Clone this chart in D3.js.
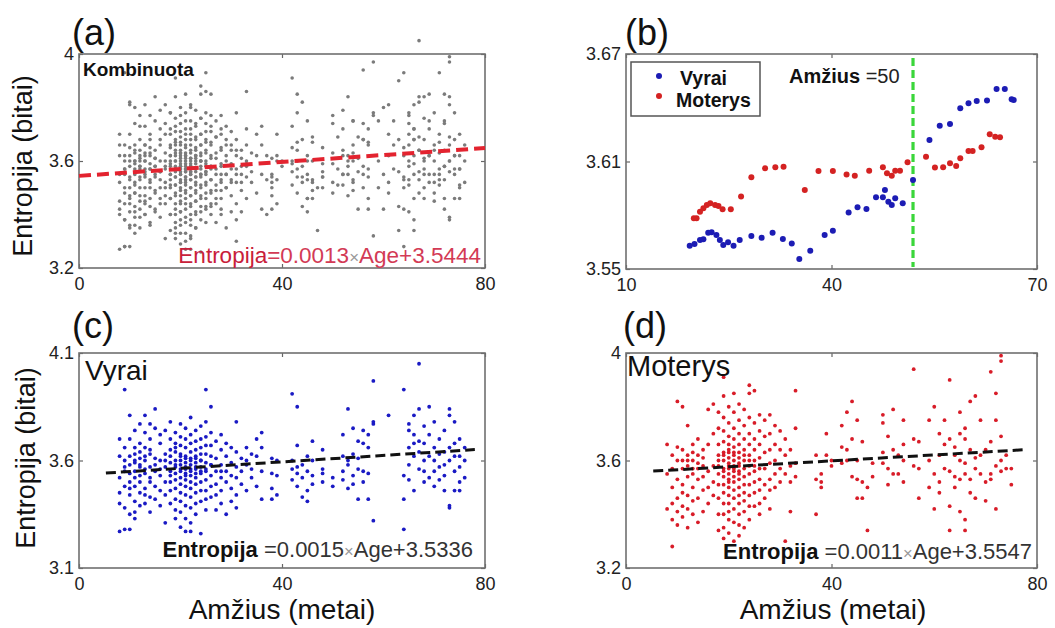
<!DOCTYPE html>
<html lang="lt">
<head>
<meta charset="utf-8">
<title>Entropija pagal amžių</title>
<script src="https://cdn.jsdelivr.net/npm/d3@7"></script>
<style>
  body { margin: 0; background: #fff; }
  text { font-family: "Liberation Sans", Arial, sans-serif; }
</style>
</head>
<body>
<svg id="fig" width="1055" height="628"></svg>
<script>

// ---------- data ----------

// men, (c): [age, entropy values at that age]
var menRows = [
  [8,  [3.52, 3.45, 3.62, 3.27, 3.40, 3.70]],
  [9,  [3.93, 3.57, 3.48, 3.66, 3.38, 3.28, 3.55, 3.60]],
  [10, [3.81, 3.62, 3.50, 3.44, 3.58, 3.35, 3.70, 3.54, 3.47, 3.28]],
  [11, [3.66, 3.59, 3.52, 3.41, 3.63, 3.55, 3.36, 3.48, 3.60, 3.74, 3.33]],
  [12, [3.77, 3.64, 3.57, 3.50, 3.45, 3.61, 3.39, 3.68, 3.53, 3.58]],
  [13, [3.81, 3.73, 3.66, 3.60, 3.54, 3.47, 3.40, 3.62, 3.56, 3.44]],
  [14, [3.77, 3.70, 3.63, 3.57, 3.50, 3.43, 3.65, 3.52, 3.36]],
  [15, [3.84, 3.75, 3.61, 3.55, 3.48, 3.58, 3.42]],
  [16, [3.72, 3.68, 3.60, 3.53, 3.46, 3.56, 3.39]],
  [17, [3.74, 3.63, 3.57, 3.50, 3.44, 3.60, 3.31]],
  [18, [3.78, 3.70, 3.65, 3.59, 3.55, 3.50, 3.46, 3.40, 3.62, 3.53]],
  [19, [3.73, 3.68, 3.64, 3.60, 3.57, 3.54, 3.51, 3.47, 3.42, 3.37, 3.33, 3.66, 3.58]],
  [20, [3.77, 3.71, 3.67, 3.63, 3.60, 3.58, 3.55, 3.52, 3.49, 3.45, 3.41, 3.36, 3.29, 3.62, 3.56]],
  [21, [3.75, 3.70, 3.66, 3.62, 3.59, 3.57, 3.54, 3.51, 3.48, 3.44, 3.39, 3.33, 3.27, 3.61, 3.56, 3.53]],
  [22, [3.80, 3.72, 3.68, 3.64, 3.61, 3.58, 3.56, 3.53, 3.50, 3.47, 3.43, 3.38, 3.31, 3.27, 3.60, 3.55]],
  [23, [3.74, 3.69, 3.65, 3.62, 3.59, 3.57, 3.54, 3.52, 3.49, 3.45, 3.40, 3.35, 3.61, 3.56]],
  [24, [3.76, 3.70, 3.66, 3.63, 3.60, 3.57, 3.54, 3.50, 3.46, 3.41, 3.60, 3.55, 3.26]],
  [25, [3.93, 3.78, 3.71, 3.67, 3.63, 3.59, 3.55, 3.51, 3.46, 3.42, 3.37, 3.56]],
  [26, [3.85, 3.73, 3.67, 3.62, 3.58, 3.53, 3.48, 3.43, 3.58]],
  [27, [3.69, 3.61, 3.55, 3.49, 3.44, 3.37]],
  [28, [3.72, 3.65, 3.58, 3.52, 3.46, 3.40, 3.55]],
  [29, [3.68, 3.62, 3.55, 3.50, 3.35]],
  [30, [3.66, 3.59, 3.53, 3.47, 3.41]],
  [31, [3.78, 3.64, 3.57, 3.52, 3.44, 3.38]],
  [32, [3.61, 3.55, 3.49]],
  [33, [3.66, 3.58, 3.46, 3.60]],
  [34, [3.63, 3.52, 3.56]],
  [35, [3.70, 3.62, 3.48]],
  [36, [3.73, 3.55, 3.66, 3.42]],
  [38, [3.61, 3.54, 3.47, 3.42]],
  [39, [3.60, 3.53, 3.44]],
  [42, [3.91, 3.60, 3.56, 3.51]],
  [43, [3.85, 3.67, 3.57, 3.54, 3.48]],
  [44, [3.58, 3.52, 3.43]],
  [45, [3.62, 3.55, 3.46, 3.41]],
  [46, [3.69, 3.60, 3.53, 3.49]],
  [48, [3.65, 3.56, 3.54, 3.50]],
  [50, [3.52, 3.48]],
  [52, [3.72, 3.62, 3.55, 3.51]],
  [53, [3.84, 3.60, 3.58, 3.47]],
  [54, [3.75, 3.63, 3.53, 3.49]],
  [55, [3.69, 3.61, 3.42, 3.56]],
  [56, [3.74, 3.68, 3.55, 3.50]],
  [57, [3.72, 3.66, 3.54, 3.42]],
  [58, [3.97, 3.78, 3.77, 3.32]],
  [61, [3.81]],
  [64, [3.93, 3.53, 3.42, 3.28]],
  [65, [3.77, 3.74, 3.66, 3.58, 3.51]],
  [66, [3.81, 3.72, 3.68, 3.62, 3.46]],
  [67, [4.05, 3.84, 3.69, 3.64, 3.56]],
  [68, [3.76, 3.68, 3.60, 3.55, 3.50]],
  [69, [3.85, 3.72, 3.62, 3.52]],
  [70, [3.78, 3.66, 3.60, 3.55, 3.48]],
  [71, [3.70, 3.63, 3.57, 3.51]],
  [72, [3.74, 3.64, 3.58, 3.53, 3.46]],
  [73, [3.81, 3.84, 3.66, 3.60, 3.39, 3.38]],
  [74, [3.78, 3.68, 3.62, 3.55, 3.46]],
  [75, [3.70, 3.62, 3.57, 3.50, 3.46]],
  [76, [3.66, 3.60, 3.52]]
];

// women, (d): [age, entropy values at that age]
var womenRows = [
  [8,  [3.55, 3.42, 3.66]],
  [9,  [3.62, 3.50, 3.44, 3.38, 3.28, 3.57]],
  [10, [3.82, 3.60, 3.53, 3.46, 3.41, 3.36, 3.65]],
  [11, [3.80, 3.64, 3.57, 3.51, 3.43, 3.39, 3.48, 3.60]],
  [12, [3.73, 3.62, 3.58, 3.54, 3.47, 3.42, 3.35, 3.60]],
  [13, [3.66, 3.60, 3.55, 3.50, 3.45, 3.40, 3.57, 3.63]],
  [14, [3.68, 3.62, 3.57, 3.53, 3.46, 3.37, 3.59]],
  [15, [3.64, 3.58, 3.54, 3.49, 3.41, 3.61]],
  [16, [3.79, 3.66, 3.56, 3.50, 3.44]],
  [17, [3.81, 3.70, 3.58, 3.47, 3.52]],
  [18, [3.78, 3.72, 3.66, 3.62, 3.58, 3.55, 3.51, 3.46, 3.40, 3.34, 3.60]],
  [19, [3.91, 3.84, 3.76, 3.71, 3.67, 3.63, 3.60, 3.57, 3.54, 3.51, 3.48, 3.44, 3.40, 3.35, 3.31, 3.62, 3.56]],
  [20, [3.80, 3.74, 3.69, 3.66, 3.63, 3.61, 3.59, 3.57, 3.55, 3.53, 3.50, 3.47, 3.44, 3.41, 3.38, 3.33, 3.64, 3.58, 3.52]],
  [21, [3.85, 3.78, 3.72, 3.68, 3.65, 3.62, 3.60, 3.58, 3.56, 3.54, 3.52, 3.49, 3.46, 3.42, 3.37, 3.30, 3.63, 3.57]],
  [22, [3.81, 3.75, 3.70, 3.66, 3.63, 3.61, 3.58, 3.56, 3.53, 3.50, 3.47, 3.44, 3.40, 3.36, 3.32, 3.59, 3.55]],
  [23, [3.79, 3.73, 3.68, 3.64, 3.60, 3.57, 3.54, 3.51, 3.48, 3.45, 3.41, 3.35, 3.62]],
  [24, [3.88, 3.85, 3.76, 3.70, 3.66, 3.62, 3.58, 3.55, 3.51, 3.47, 3.43, 3.38, 3.60]],
  [25, [3.86, 3.74, 3.68, 3.64, 3.60, 3.56, 3.52, 3.48, 3.43, 3.58]],
  [26, [3.77, 3.71, 3.66, 3.61, 3.57, 3.53, 3.49, 3.44, 3.40]],
  [27, [3.75, 3.69, 3.63, 3.57, 3.51, 3.46]],
  [28, [3.77, 3.70, 3.64, 3.59, 3.53, 3.49, 3.42]],
  [29, [3.73, 3.66, 3.60, 3.55, 3.50]],
  [30, [3.71, 3.64, 3.57, 3.52]],
  [31, [3.68, 3.62, 3.55, 3.30]],
  [32, [3.64, 3.58, 3.52, 3.41]],
  [33, [3.86, 3.72, 3.59, 3.54]],
  [37, [3.62, 3.53, 3.40]],
  [38, [3.55, 3.52, 3.50]],
  [39, [3.70, 3.62]],
  [40, [3.60, 3.58]],
  [42, [3.73, 3.65, 3.59]],
  [43, [3.78, 3.64, 3.60]],
  [44, [3.82, 3.68, 3.54]],
  [45, [3.75, 3.60, 3.53, 3.46]],
  [46, [3.67, 3.52, 3.46]],
  [47, [3.50, 3.34]],
  [48, [3.59, 3.54]],
  [50, [3.77, 3.74, 3.63, 3.59]],
  [51, [3.69, 3.57, 3.51]],
  [52, [3.79, 3.64, 3.55]],
  [53, [3.62, 3.55]],
  [54, [3.75, 3.66, 3.60, 3.52]],
  [56, [3.94, 3.68, 3.58]],
  [57, [3.67, 3.57, 3.46]],
  [59, [3.75, 3.60, 3.50]],
  [60, [3.80, 3.55, 3.42]],
  [61, [3.70, 3.62, 3.52, 3.48]],
  [62, [3.75, 3.66, 3.57]],
  [63, [3.90, 3.68, 3.56, 3.43, 3.34]],
  [64, [3.65, 3.62, 3.54, 3.50]],
  [65, [3.78, 3.70, 3.60, 3.53, 3.41]],
  [66, [3.72, 3.68, 3.59, 3.55, 3.38, 3.34]],
  [67, [3.82, 3.64, 3.53, 3.48]],
  [68, [3.84, 3.61, 3.57, 3.46]],
  [69, [3.75, 3.62, 3.55]],
  [70, [3.64, 3.52, 3.45]],
  [71, [3.93, 3.67, 3.55, 3.53]],
  [72, [3.85, 3.75, 3.58, 3.42]],
  [73, [3.99, 3.97, 3.69, 3.60, 3.56]],
  [74, [3.62, 3.57]],
  [75, [3.57, 3.51]]
];

// (b): mean entropy by age
var menMeanAges = [19.3, 20.0, 20.8, 21.3, 22.0, 22.5, 23.2, 23.7, 24.2, 24.9, 25.7, 26.6, 28.3, 29.8,
  31.4, 32.9, 34.2, 35.3, 36.9, 39.0, 40.2, 42.5, 43.8, 45.1, 46.5, 47.5, 47.8, 48.3, 48.8, 49.3,
  50.4, 51.9, 54.3, 55.8, 57.3, 58.8, 60.0, 61.2, 62.7, 64.1, 65.3, 66.3, 66.6];
var menMeanValues = [3.5630, 3.5640, 3.5662, 3.5666, 3.5703, 3.5705, 3.5690, 3.5662, 3.5634, 3.5649,
  3.5630, 3.5662, 3.5684, 3.5675, 3.5703, 3.5667, 3.5643, 3.5556, 3.5602, 3.5690, 3.5714, 3.5816,
  3.5844, 3.5835, 3.5900, 3.5900, 3.5941, 3.5876, 3.5857, 3.5895, 3.5867, 3.5997, 3.6220, 3.6300,
  3.6310, 3.6397, 3.6425, 3.6438, 3.6440, 3.6505, 3.6505, 3.6447, 3.6443];
var womenMeanAges = [19.9, 20.3, 20.8, 21.3, 21.8, 22.3, 23.0, 23.5, 24.1, 25.3, 26.8, 28.3, 30.3,
  31.8, 33.0, 36.1, 38.1, 40.2, 42.2, 43.4, 45.5, 47.5, 48.1, 48.8, 49.3, 50.0, 51.1, 53.8, 55.1,
  56.3, 57.3, 58.2, 58.8, 60.0, 60.6, 61.9, 63.1, 63.9, 64.6];
var womenMeanValues = [3.5783, 3.5783, 3.5820, 3.5839, 3.5857, 3.5867, 3.5857, 3.5852, 3.5833,
  3.5833, 3.5904, 3.6012, 3.6062, 3.6068, 3.6071, 3.5941, 3.6047, 3.6047, 3.6028, 3.6021, 3.6049,
  3.6068, 3.6034, 3.6021, 3.6049, 3.6049, 3.6096, 3.6127, 3.6066, 3.6068, 3.6090, 3.6075, 3.6118,
  3.6159, 3.6159, 3.6179, 3.6252, 3.6238, 3.6235];
var splitAge = 51.9;   // where the green line sits in the picture

// linear fits [slope, intercept] and the age span each one is drawn over
var fitAll = [0.0013, 3.5444],   fitAllSpan = [0, 80];
var fitMen = [0.0015, 3.5336],   fitMenSpan = [5.3, 78];
var fitWomen = [0.0011, 3.5547], fitWomenSpan = [5.3, 78];

// ticks
var ageTicks = [0, 40, 80];
var ageTicksB = [10, 40, 70];
var entTicksA = [3.2, 3.6, 4];
var entTicksB = [3.55, 3.61, 3.67];
var entTicksC = [3.1, 3.6, 4.1];
var entTicksD = [3.2, 3.6, 4];

// ---------- helpers ----------

function flatten(rows) {
  var out = [];
  rows.forEach(function(r) {
    r[1].forEach(function(v) { out.push([r[0], v]); });
  });
  return out;
}
function zip(a, b) { return a.map(function(d, i) { return [d, b[i]]; }); }

var menPts = flatten(menRows);
var womenPts = flatten(womenRows);
var allPts = menPts.concat(womenPts);

var svg = d3.select("#fig");
var tickFont = 18;

// frame + inward ticks, MATLAB-style box
function makePanel(box, xDom, yDom, xTicks, yTicks) {
  var x = d3.scaleLinear().domain(xDom).range([box.left, box.right]);
  var y = d3.scaleLinear().domain(yDom).range([box.bottom, box.top]);
  var g = svg.append("g");

  g.append("g")
   .attr("transform", "translate(0," + box.bottom + ")")
   .call(d3.axisBottom(x).tickValues(xTicks).tickSize(-4).tickPadding(9).tickFormat(String));
  g.append("g")
   .attr("transform", "translate(0," + box.top + ")")
   .call(d3.axisTop(x).tickValues(xTicks).tickSize(-4).tickFormat(""));
  g.append("g")
   .attr("transform", "translate(" + box.left + ",0)")
   .call(d3.axisLeft(y).tickValues(yTicks).tickSize(-4).tickPadding(5).tickFormat(String));
  g.append("g")
   .attr("transform", "translate(" + box.right + ",0)")
   .call(d3.axisRight(y).tickValues(yTicks).tickSize(-4).tickFormat(""));

  g.selectAll(".domain").remove();
  g.selectAll(".tick line").attr("stroke", "#666").attr("stroke-width", 1.2);
  g.selectAll(".tick text")
   .attr("font-family", '"Liberation Sans", Arial, sans-serif')
   .attr("font-size", tickFont)
   .attr("fill", "#222");

  g.append("rect")
   .attr("x", box.left).attr("y", box.top)
   .attr("width", box.right - box.left).attr("height", box.bottom - box.top)
   .attr("fill", "none").attr("stroke", "#707070").attr("stroke-width", 1.6);

  return { g: g, x: x, y: y };
}

function dots(p, data, color, r) {
  p.g.append("g").selectAll("circle")
   .data(data).enter().append("circle")
   .attr("cx", function(d) { return p.x(d[0]); })
   .attr("cy", function(d) { return p.y(d[1]); })
   .attr("r", r)
   .attr("fill", color);
}

function fitLine(p, fit, span, color, width, dash) {
  var pts = span.map(function(a) { return [a, fit[0] * a + fit[1]]; });
  p.g.append("path")
   .attr("d", d3.line().x(function(d) { return p.x(d[0]); }).y(function(d) { return p.y(d[1]); })(pts))
   .attr("fill", "none").attr("stroke", color)
   .attr("stroke-width", width).attr("stroke-dasharray", dash);
}

function equation(p, xEnd, yBase, size, fit, headColor, bodyColor, bold, gap) {
  var t = p.g.append("text")
   .attr("x", xEnd).attr("y", yBase)
   .attr("text-anchor", "end").attr("font-size", size);
  t.append("tspan").attr("fill", headColor).attr("font-weight", bold ? "bold" : "normal").text("Entropija");
  t.append("tspan").attr("fill", bodyColor).text((gap ? " " : "") + "=" + fit[0].toFixed(4));
  t.append("tspan").attr("fill", "#999").attr("font-size", size * 0.75).text("\u00d7");
  t.append("tspan").attr("fill", bodyColor).text("Age+" + fit[1].toFixed(4));
}

function panelLetter(x, y, s) {
  svg.append("text").attr("x", x).attr("y", y).attr("font-size", 36).attr("fill", "#111").text(s);
}

function yTitle(x, y) {
  svg.append("text")
     .attr("transform", "translate(" + x + "," + y + ") rotate(-90)")
     .attr("text-anchor", "middle").attr("font-size", 27).attr("fill", "#111")
     .text("Entropija (bitai)");
}

function xTitle(x, y) {
  svg.append("text").attr("x", x).attr("y", y)
     .attr("text-anchor", "middle").attr("font-size", 28).attr("fill", "#111")
     .text("Amžius (metai)");
}

// ---------- (a) combined ----------
var pa = makePanel({ left: 79, right: 485, top: 54, bottom: 268 }, [0, 80], [3.2, 4], ageTicks, entTicksA);
dots(pa, allPts, "#7b7b7b", 1.8);
fitLine(pa, fitAll, fitAllSpan, "#e3232f", 4, "12,6");
pa.g.append("text").attr("x", 83).attr("y", 76).attr("font-size", 19)
    .attr("font-weight", "bold").attr("fill", "#111").text("Kombinuota");
equation(pa, 481, 263, 22.5, fitAll, "#c8203a", "#d33a55", false, false);
panelLetter(72, 45, "(a)");
yTitle(32, 166);

// ---------- (b) means by age ----------
var pb = makePanel({ left: 626, right: 1037, top: 54, bottom: 269 }, [10, 70], [3.55, 3.67], ageTicksB, entTicksB);
pb.g.append("line")
    .attr("x1", pb.x(splitAge)).attr("x2", pb.x(splitAge))
    .attr("y1", 58).attr("y2", 267)
    .attr("stroke", "#3ad63a").attr("stroke-width", 3.2).attr("stroke-dasharray", "8,4");
dots(pb, zip(womenMeanAges, womenMeanValues), "#d42222", 3);
dots(pb, zip(menMeanAges, menMeanValues), "#1c1cb4", 3);

var leg = pb.g.append("g");
leg.append("rect").attr("x", 631).attr("y", 62).attr("width", 129).attr("height", 54)
   .attr("fill", "#fff").attr("stroke", "#555").attr("stroke-width", 1.5);
leg.append("circle").attr("cx", 659).attr("cy", 76).attr("r", 3).attr("fill", "#1c1cb4");
leg.append("circle").attr("cx", 659).attr("cy", 96).attr("r", 3).attr("fill", "#d42222");
leg.append("text").attr("x", 680).attr("y", 85).attr("font-size", 19.5).attr("font-weight", "bold")
   .attr("fill", "#111").text("Vyrai");
leg.append("text").attr("x", 676).attr("y", 107).attr("font-size", 19.5).attr("font-weight", "bold")
   .attr("fill", "#111").text("Moterys");

var amz = pb.g.append("text").attr("x", 789).attr("y", 83).attr("font-size", 20).attr("fill", "#111");
amz.append("tspan").attr("font-weight", "bold").text("Amžius");
amz.append("tspan").attr("fill", "#222").text(" =50");
panelLetter(625, 45, "(b)");

// ---------- (c) men ----------
var pc = makePanel({ left: 79, right: 485, top: 353, bottom: 568 }, [0, 80], [3.1, 4.1], ageTicks, entTicksC);
dots(pc, menPts, "#1a1ac4", 1.9);
fitLine(pc, fitMen, fitMenSpan, "#111", 3, "10,5");
pc.g.append("text").attr("x", 85).attr("y", 380).attr("font-size", 28).attr("fill", "#111").text("Vyrai");
equation(pc, 473, 557, 22, fitMen, "#111", "#333", true, true);
panelLetter(72, 338, "(c)");
yTitle(35, 458);
xTitle(282, 619);

// ---------- (d) women ----------
var pd = makePanel({ left: 626, right: 1037, top: 353, bottom: 568 }, [0, 80], [3.2, 4], ageTicks, entTicksD);
dots(pd, womenPts, "#d81c28", 1.9);
fitLine(pd, fitWomen, fitWomenSpan, "#111", 3, "10,5");
pd.g.append("text").attr("x", 627).attr("y", 376).attr("font-size", 29).attr("fill", "#111").text("Moterys");
equation(pd, 1032, 559, 22, fitWomen, "#111", "#333", true, true);
panelLetter(623, 338, "(d)");
xTitle(833, 619);

</script>
</body>
</html>
